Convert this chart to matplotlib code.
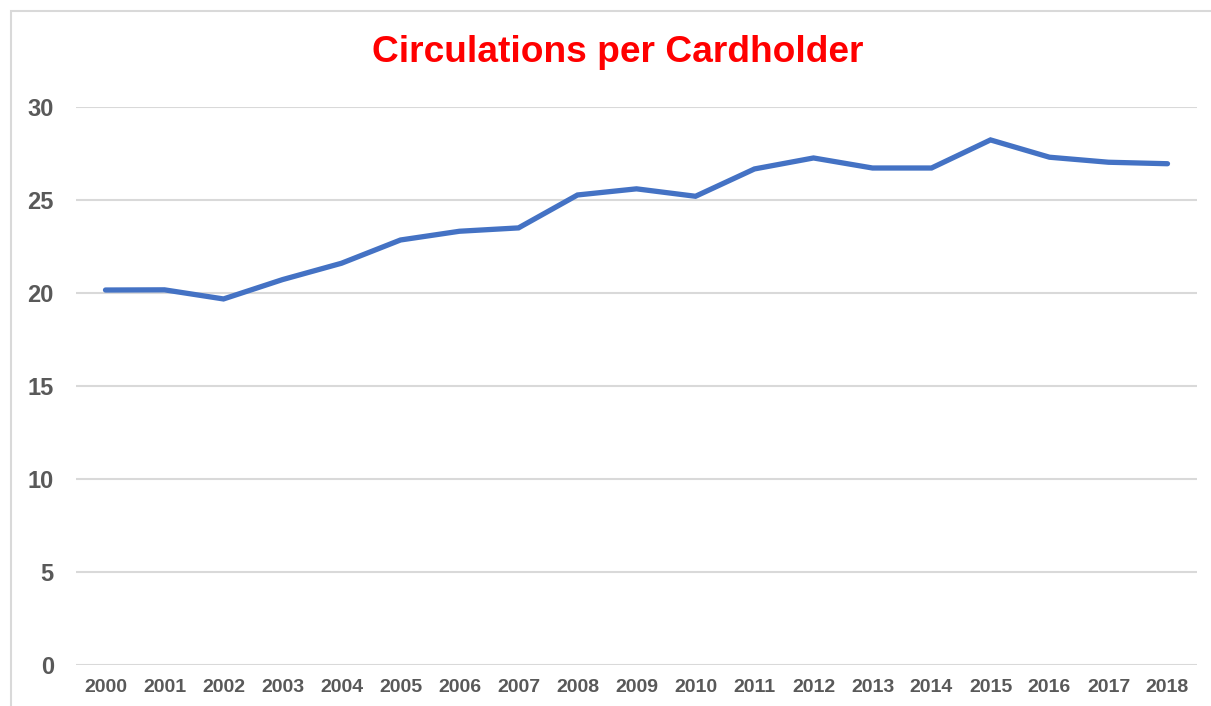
import matplotlib.pyplot as plt
from matplotlib.patches import Rectangle

years = [str(y) for y in range(2000, 2019)]
circulations = [20.16, 20.17, 19.68, 20.72, 21.6, 22.85, 23.32, 23.5, 25.27, 25.6,
                25.2, 26.67, 27.26, 26.72, 26.72, 28.23, 27.3, 27.03, 26.95]

plt.rcParams['font.family'] = ['Liberation Sans', 'DejaVu Sans']

fig = plt.figure(figsize=(12.11, 7.06), dpi=100)
ax = fig.add_axes([76/1211, 1 - 665/706, (1197 - 76)/1211, (665 - 107)/706])

# outer chart border (only left and top edges visible in the crop)
fig.patches.append(Rectangle((11/1211, -0.05), 1.0, 1.05 - 11/706,
                             transform=fig.transFigure, fill=False,
                             edgecolor='#d9d9d9', linewidth=1.5))

x = range(len(years))
ax.plot(x, circulations, color='#4472C4', linewidth=3.8, solid_capstyle='round',
        solid_joinstyle='miter', zorder=3)

ax.set_xlim(-0.5, len(years) - 0.5)
ax.set_ylim(0, 30)
ax.set_yticks(range(0, 31, 5))
ax.set_xticks(list(x))
ax.set_xticklabels(years)
ax.grid(axis='y', color='#d9d9d9', linewidth=1.5)
ax.set_axisbelow(True)
for s in ax.spines.values():
    s.set_visible(False)
ax.tick_params(axis='both', length=0, colors='#595959')
ax.tick_params(axis='y', labelsize=17, pad=16)
ax.tick_params(axis='x', labelsize=14, pad=10)
for lab in ax.get_xticklabels() + ax.get_yticklabels():
    lab.set_fontweight('bold')

fig.text(0.5 * (373 + 862) / 1211, 1 - 53/706, 'Circulations per Cardholder',
         color='#ff0000', fontsize=26.7, fontweight='bold', ha='center', va='center')

fig.savefig('out.png', dpi=100)
